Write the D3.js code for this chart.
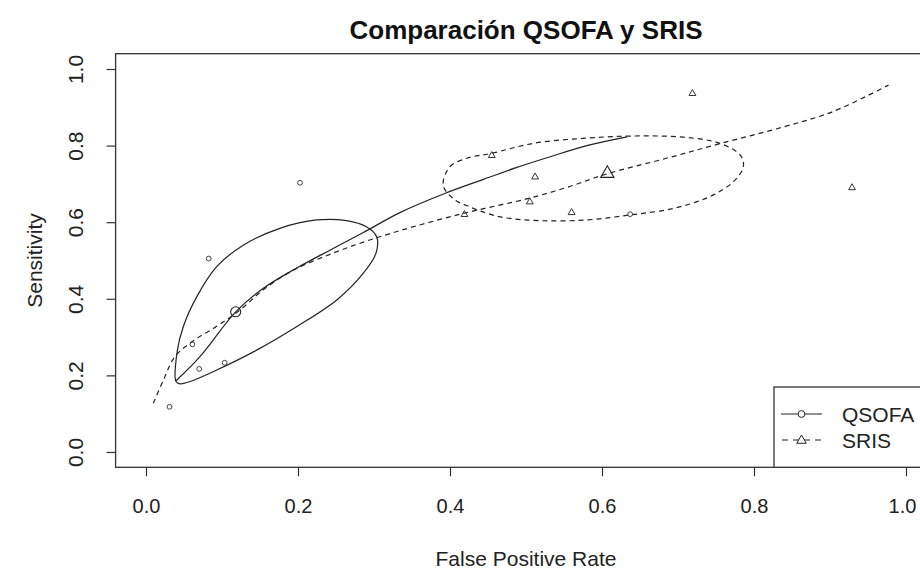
<!DOCTYPE html>
<html>
<head>
<meta charset="utf-8">
<script src="https://cdn.jsdelivr.net/npm/d3@7"></script>
<style>
  body { margin: 0; background: #fff; }
  text { font-family: "Liberation Sans", Arial, sans-serif; }
</style>
</head>
<body>
<div id="chart"></div>
<script>
// study points (false positive rate, sensitivity)
const qsofaFpr = [0.031, 0.061, 0.070, 0.0825, 0.1035, 0.2026, 0.637];
const qsofaSens = [0.118, 0.281, 0.217, 0.505, 0.233, 0.703, 0.621];
const srisFpr = [0.419, 0.455, 0.505, 0.512, 0.560, 0.719, 0.929];
const srisSens = [0.621, 0.775, 0.654, 0.719, 0.626, 0.937, 0.691];

// summary estimates
const qsofaSummary = [0.118, 0.366];
const srisSummary = [0.607, 0.729];

// SROC curves
const qsofaSroc = [
  [0.0395, 0.186], [0.071, 0.249], [0.118, 0.366], [0.154, 0.427], [0.198, 0.480],
  [0.242, 0.527], [0.286, 0.573], [0.334, 0.625], [0.393, 0.675], [0.444, 0.712],
  [0.488, 0.743], [0.532, 0.771], [0.580, 0.800], [0.633, 0.823]
];
const srisSroc = [
  [0.0096, 0.127], [0.023, 0.188], [0.038, 0.249], [0.062, 0.290], [0.093, 0.328],
  [0.124, 0.371], [0.154, 0.423], [0.194, 0.475], [0.242, 0.516], [0.286, 0.548],
  [0.334, 0.578], [0.4175, 0.623], [0.501, 0.661], [0.554, 0.691], [0.606, 0.726],
  [0.685, 0.767], [0.755, 0.805], [0.839, 0.849], [0.904, 0.889], [0.977, 0.958]
];

// confidence regions
const qsofaRegion = [
  [0.0395, 0.184], [0.041, 0.262], [0.049, 0.327], [0.0667, 0.405], [0.093, 0.484],
  [0.128, 0.540], [0.176, 0.584], [0.2246, 0.606], [0.264, 0.604], [0.290, 0.588],
  [0.3035, 0.562], [0.3026, 0.519], [0.286, 0.467], [0.251, 0.397], [0.198, 0.327],
  [0.1456, 0.266], [0.093, 0.214], [0.058, 0.184], [0.0447, 0.178]
];
const srisRegion = [
  [0.391, 0.697], [0.400, 0.745], [0.422, 0.767], [0.455, 0.780], [0.510, 0.806],
  [0.575, 0.819], [0.641, 0.825], [0.707, 0.822], [0.755, 0.806], [0.782, 0.775],
  [0.786, 0.745], [0.773, 0.706], [0.742, 0.667], [0.694, 0.636], [0.637, 0.619],
  [0.580, 0.606], [0.518, 0.604], [0.466, 0.614], [0.426, 0.640], [0.404, 0.662]
];

const xTicks = [0, 0.2, 0.4, 0.6, 0.8, 1.0];
const yTicks = [0, 0.2, 0.4, 0.6, 0.8, 1.0];
const legendLabels = ["QSOFA", "SRIS"];

const width = 920;
const height = 573;
const ink = "#222";
const fontSize = 21;

const svg = d3
  .select("#chart")
  .append("svg")
  .attr("width", width)
  .attr("height", height);

// R style: axis range extends 4% past the data range
const x = d3.scaleLinear().domain([-0.04, 1.04]).range([115.6, 936.4]);
const y = d3.scaleLinear().domain([-0.04, 1.04]).range([467.3, 53.7]);

// plot box
svg
  .append("rect")
  .attr("x", x(-0.04))
  .attr("y", y(1.04))
  .attr("width", x(1.04) - x(-0.04))
  .attr("height", y(-0.04) - y(1.04))
  .attr("fill", "none")
  .attr("stroke", "#333")
  .attr("stroke-width", 1.3);

// axes
const xAxis = svg
  .append("g")
  .attr("transform", `translate(0,${y(-0.04)})`)
  .call(d3.axisBottom(x).tickValues(xTicks).tickSize(9).tickFormat(d3.format(".1f")));
xAxis.select(".domain").remove();
xAxis.selectAll("line").attr("stroke", "#333").attr("stroke-width", 1.2);
xAxis
  .selectAll("text")
  .attr("font-size", 20)
  .attr("fill", ink)
  .style("font-family", "Liberation Sans, Arial, sans-serif")
  .attr("y", 46)
  .attr("dy", 0)
  .attr("x", (d) => (d === 1 ? -4 : 0));

const yAxis = svg
  .append("g")
  .attr("transform", `translate(${x(-0.04)},0)`)
  .call(d3.axisLeft(y).tickValues(yTicks).tickSize(9).tickFormat(d3.format(".1f")));
yAxis.select(".domain").remove();
yAxis.selectAll("line").attr("stroke", "#333").attr("stroke-width", 1.2);
yAxis
  .selectAll("text")
  .attr("font-size", fontSize)
  .attr("fill", ink)
  .style("font-family", "Liberation Sans, Arial, sans-serif")
  .attr("x", 0)
  .attr("dy", 0)
  .attr("text-anchor", "middle")
  .attr("transform", "translate(-33,0) rotate(-90)");

// titles
svg
  .append("text")
  .attr("x", (x(-0.04) + x(1.04)) / 2)
  .attr("y", 39)
  .attr("text-anchor", "middle")
  .attr("font-size", 26)
  .attr("font-weight", "bold")
  .attr("fill", "#111")
  .text("Comparación QSOFA y SRIS");

svg
  .append("text")
  .attr("x", (x(-0.04) + x(1.04)) / 2)
  .attr("y", 566)
  .attr("text-anchor", "middle")
  .attr("font-size", fontSize)
  .attr("fill", ink)
  .text("False Positive Rate");

svg
  .append("text")
  .attr("transform", `translate(42,${(y(-0.04) + y(1.04)) / 2}) rotate(-90)`)
  .attr("text-anchor", "middle")
  .attr("font-size", fontSize)
  .attr("fill", ink)
  .text("Sensitivity");

const plot = svg.append("g");
const line = d3.line().x((d) => x(d[0])).y((d) => y(d[1]));

// confidence regions
plot
  .append("path")
  .attr("d", line.curve(d3.curveCatmullRomClosed)(qsofaRegion))
  .attr("fill", "none")
  .attr("stroke", ink)
  .attr("stroke-width", 1.2);

plot
  .append("path")
  .attr("d", line.curve(d3.curveCatmullRomClosed)(srisRegion))
  .attr("fill", "none")
  .attr("stroke", ink)
  .attr("stroke-width", 1.2)
  .attr("stroke-dasharray", "5,4");

// SROC curves
plot
  .append("path")
  .attr("d", line.curve(d3.curveCatmullRom)(qsofaSroc))
  .attr("fill", "none")
  .attr("stroke", ink)
  .attr("stroke-width", 1.2);

plot
  .append("path")
  .attr("d", line.curve(d3.curveCatmullRom)(srisSroc))
  .attr("fill", "none")
  .attr("stroke", ink)
  .attr("stroke-width", 1.2)
  .attr("stroke-dasharray", "5,4");

// points
const tri = (cx, cy, s) =>
  `M${cx},${cy - s} L${cx + s * 0.95},${cy + s * 0.65} L${cx - s * 0.95},${cy + s * 0.65} Z`;

plot
  .selectAll("circle.qsofa")
  .data(qsofaFpr.map((d, i) => [d, qsofaSens[i]]))
  .join("circle")
  .attr("class", "qsofa")
  .attr("cx", (d) => x(d[0]))
  .attr("cy", (d) => y(d[1]))
  .attr("r", 2.4)
  .attr("fill", "none")
  .attr("stroke", "#444")
  .attr("stroke-width", 1);

plot
  .selectAll("path.sris")
  .data(srisFpr.map((d, i) => [d, srisSens[i]]))
  .join("path")
  .attr("class", "sris")
  .attr("d", (d) => tri(x(d[0]), y(d[1]), 3.6))
  .attr("fill", "none")
  .attr("stroke", "#333")
  .attr("stroke-width", 1);

plot
  .append("circle")
  .attr("cx", x(qsofaSummary[0]))
  .attr("cy", y(qsofaSummary[1]))
  .attr("r", 5)
  .attr("fill", "none")
  .attr("stroke", ink)
  .attr("stroke-width", 1.1);

plot
  .append("path")
  .attr("d", tri(x(srisSummary[0]), y(srisSummary[1]), 7))
  .attr("fill", "none")
  .attr("stroke", ink)
  .attr("stroke-width", 1.1);

// legend
const legend = svg.append("g");
legend
  .append("rect")
  .attr("x", 774)
  .attr("y", 387)
  .attr("width", 170)
  .attr("height", y(-0.04) - 387)
  .attr("fill", "#fff")
  .attr("stroke", "#333")
  .attr("stroke-width", 1.3);

legendLabels.forEach((label, i) => {
  const ly = 414 + i * 26;
  legend
    .append("line")
    .attr("x1", 781)
    .attr("x2", 822)
    .attr("y1", ly)
    .attr("y2", ly)
    .attr("stroke", ink)
    .attr("stroke-width", 1.2)
    .attr("stroke-dasharray", i === 0 ? null : "6,5")
    .attr("stroke-dashoffset", i === 0 ? null : -1);
  if (i === 0) {
    legend
      .append("circle")
      .attr("cx", 801.5)
      .attr("cy", ly)
      .attr("r", 3.4)
      .attr("fill", "#fff")
      .attr("stroke", ink);
  } else {
    legend
      .append("path")
      .attr("d", tri(801.5, ly, 5))
      .attr("fill", "#fff")
      .attr("stroke", ink);
  }
  legend
    .append("text")
    .attr("x", 842)
    .attr("y", ly + 7.5)
    .attr("font-size", fontSize)
    .attr("fill", ink)
    .text(label);
});
</script>
</body>
</html>
